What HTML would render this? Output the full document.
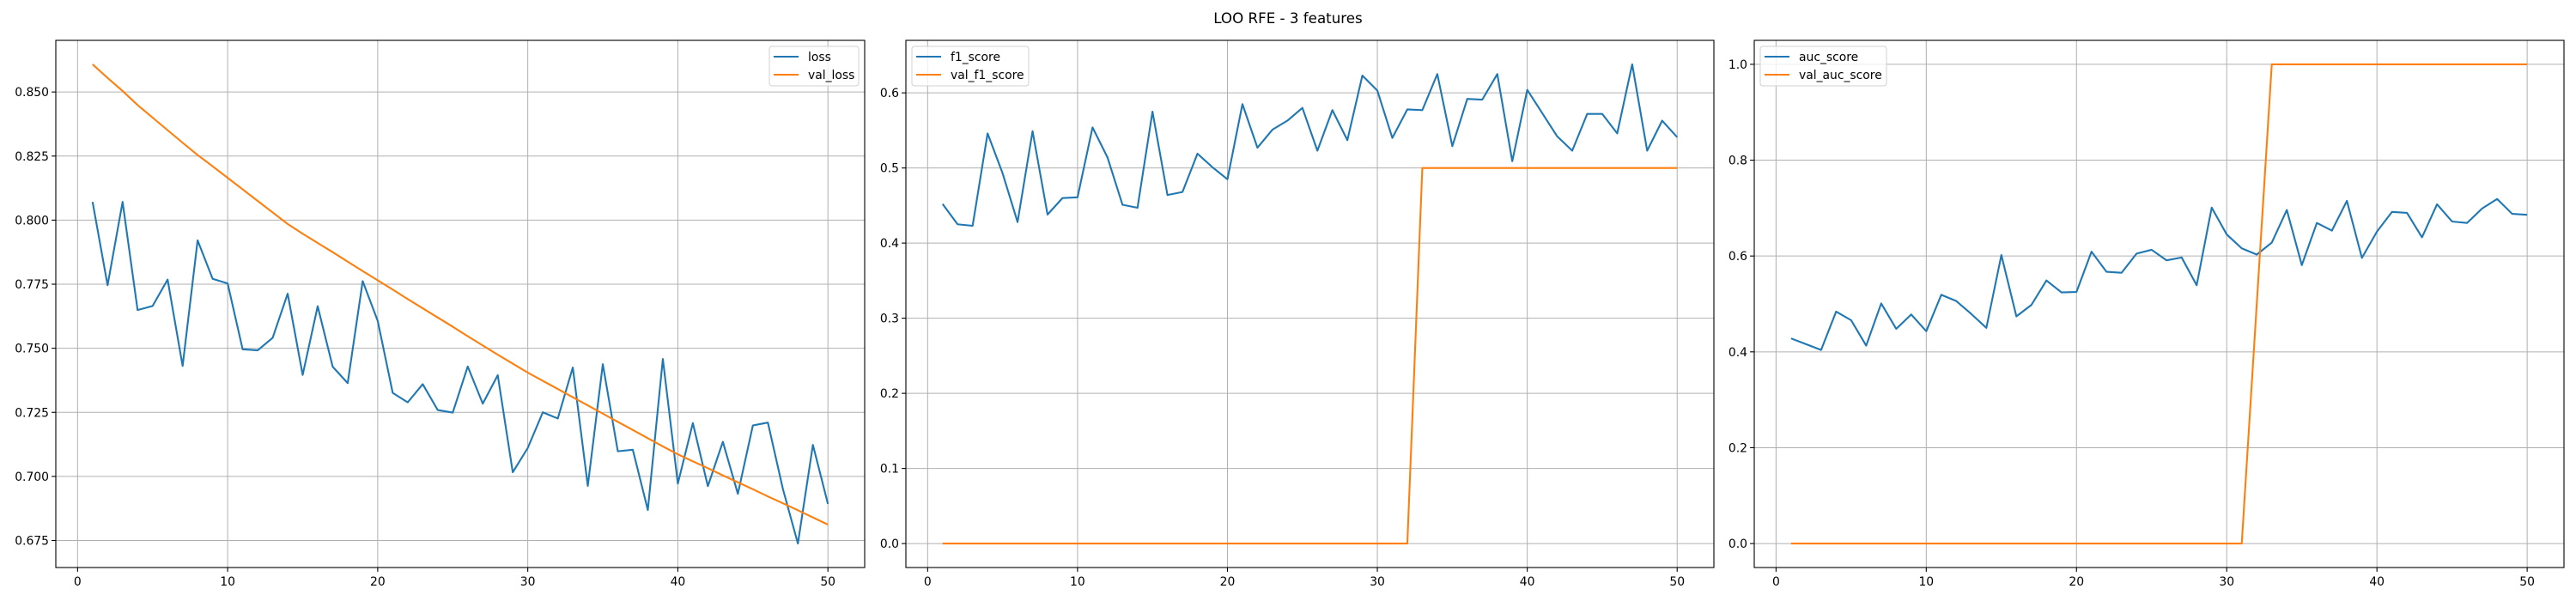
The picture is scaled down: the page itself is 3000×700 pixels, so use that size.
<!DOCTYPE html>
<html><head><meta charset="utf-8">
<style>
html,body{margin:0;padding:0;background:#fff;}
svg{display:block;font-family:"DejaVu Sans","Liberation Sans",sans-serif;}
</style></head>
<body>
<svg id="fig" width="3000" height="700" viewBox="0 0 3000 700" xmlns="http://www.w3.org/2000/svg">
<rect width="3000" height="700" fill="#fff"/>
<text x="1500" y="27" text-anchor="middle" font-size="16.7" fill="#000">LOO RFE - 3 features</text>
</svg>
<script>
const epochs = Array.from({length:50},(_, i)=>i+1);
const loss = [0.8071,0.7746,0.8071,0.7649,0.7665,0.7768,0.7431,0.7921,0.7771,0.7753,0.7496,0.7492,0.7541,0.7713,0.7396,0.7664,0.7428,0.7364,0.7762,0.7607,0.7326,0.7289,0.7360,0.7259,0.7249,0.7429,0.7284,0.7395,0.7016,0.7111,0.7250,0.7226,0.7425,0.6963,0.7438,0.7098,0.7104,0.6869,0.7458,0.6972,0.7208,0.6962,0.7135,0.6932,0.7199,0.7210,0.6951,0.6738,0.7123,0.6893];
const valLoss = [0.8608,0.8555,0.8504,0.8449,0.8400,0.8351,0.8302,0.8254,0.8210,0.8165,0.8120,0.8075,0.8030,0.7985,0.7947,0.7911,0.7875,0.7838,0.7801,0.7765,0.7729,0.7692,0.7656,0.7620,0.7584,0.7547,0.7511,0.7475,0.7440,0.7405,0.7373,0.7341,0.7309,0.7277,0.7245,0.7213,0.7181,0.7149,0.7117,0.7086,0.7059,0.7032,0.7004,0.6977,0.6950,0.6922,0.6895,0.6868,0.6840,0.6812];
const f1 = [0.452,0.425,0.423,0.546,0.493,0.428,0.549,0.438,0.460,0.461,0.554,0.514,0.451,0.447,0.575,0.464,0.468,0.519,0.501,0.485,0.585,0.527,0.551,0.563,0.580,0.523,0.577,0.537,0.623,0.603,0.540,0.578,0.577,0.625,0.529,0.592,0.591,0.625,0.509,0.604,0.573,0.542,0.523,0.572,0.572,0.546,0.638,0.523,0.563,0.541];
const valF1 = [0,0,0,0,0,0,0,0,0,0,0,0,0,0,0,0,0,0,0,0,0,0,0,0,0,0,0,0,0,0,0,0,0.5,0.5,0.5,0.5,0.5,0.5,0.5,0.5,0.5,0.5,0.5,0.5,0.5,0.5,0.5,0.5,0.5,0.5];
const auc = [0.428,0.416,0.404,0.484,0.466,0.413,0.501,0.448,0.478,0.443,0.519,0.506,0.479,0.450,0.602,0.474,0.498,0.549,0.524,0.525,0.609,0.567,0.565,0.605,0.613,0.591,0.597,0.539,0.701,0.645,0.616,0.603,0.628,0.696,0.581,0.669,0.653,0.715,0.596,0.651,0.692,0.690,0.639,0.708,0.672,0.669,0.699,0.719,0.688,0.686];
const valAuc = [0,0,0,0,0,0,0,0,0,0,0,0,0,0,0,0,0,0,0,0,0,0,0,0,0,0,0,0,0,0,0,0.5,1,1,1,1,1,1,1,1,1,1,1,1,1,1,1,1,1,1];
const xTicks = [0,10,20,30,40,50];
const yTicks1 = [0.675,0.700,0.725,0.750,0.775,0.800,0.825,0.850];
const yTicks2 = [0.0,0.1,0.2,0.3,0.4,0.5,0.6];
const yTicks3 = [0.0,0.2,0.4,0.6,0.8,1.0];
const yLabels1 = ["0.675","0.700","0.725","0.750","0.775","0.800","0.825","0.850"];
const yLabels2 = ["0.0","0.1","0.2","0.3","0.4","0.5","0.6"];
const yLabels3 = ["0.0","0.2","0.4","0.6","0.8","1.0"];

const NS="http://www.w3.org/2000/svg";
const svg=document.getElementById('fig');
function mk(tag,attrs,parent){const e=document.createElementNS(NS,tag);for(const k in attrs)e.setAttribute(k,attrs[k]);(parent||svg).appendChild(e);return e;}

function panel(L,R,T,B,s1,s2,n1,n2,yt,yl,legendPos,key){
  const g=mk('g',{});
  
  
  const all=s1.concat(s2);
  const mn=Math.min(...all),mx=Math.max(...all),pad=(mx-mn)*0.05;
  const y0=mn-pad,y1=mx+pad;
  const xmn=1-0.05*49,xmx=50+0.05*49;
  const X=v=>L+(v-xmn)/(xmx-xmn)*(R-L);
  const Y=v=>B-(v-y0)/(y1-y0)*(B-T);
  // grid
  xTicks.forEach(t=>{
    const ln=mk('line',{x1:X(t),x2:X(t),y1:T,y2:B,stroke:'#b0b0b0','stroke-width':1},g);
    
    
    mk('line',{x1:X(t),x2:X(t),y1:B,y2:B+4.9,stroke:'#000','stroke-width':1.1},g);
    const tx=mk('text',{x:X(t),y:B+21,'text-anchor':'middle','font-size':13.9,fill:'#000'},g);
    tx.textContent=t;
    
    
  });
  yt.forEach((t,i)=>{
    const ln=mk('line',{x1:L,x2:R,y1:Y(t),y2:Y(t),stroke:'#b0b0b0','stroke-width':1},g);
    
    
    mk('line',{x1:L-4.9,x2:L,y1:Y(t),y2:Y(t),stroke:'#000','stroke-width':1.1},g);
    const tx=mk('text',{x:L-8,y:Y(t)+5,'text-anchor':'end','font-size':13.9,fill:'#000'},g);
    tx.textContent=yl[i];
    
    
  });
  const p1=mk('polyline',{points:epochs.map((e,i)=>X(e)+','+Y(s1[i])).join(' '),fill:'none',stroke:'#1f77b4','stroke-width':2.1,'stroke-linejoin':'round'},g);
  
  
  const p2=mk('polyline',{points:epochs.map((e,i)=>X(e)+','+Y(s2[i])).join(' '),fill:'none',stroke:'#ff7f0e','stroke-width':2.1,'stroke-linejoin':'round'},g);
  
  
  const fr=mk('rect',{x:L,y:T,width:R-L,height:B-T,fill:'none',stroke:'#000','stroke-width':1.1},g);
  
  
  // legend
  const lw=legendPos.w,lx=legendPos.right?R-7-lw:L+7,ly=T+7;
  const lg=mk('g',{},g);
  
  
  mk('rect',{x:lx,y:ly,width:lw,height:46,rx:3,fill:'#fff','fill-opacity':0.8,stroke:'#d0d0d0','stroke-width':1},lg);
  [[n1,'#1f77b4'],[n2,'#ff7f0e']].forEach((d,i)=>{
    const yy=ly+12+i*21;
    mk('line',{x1:lx+5,x2:lx+34,y1:yy,y2:yy,stroke:d[1],'stroke-width':2.1},lg);
    const tx=mk('text',{x:lx+45,y:yy+5,'font-size':13.9,fill:'#000'},lg);
    tx.textContent=d[0];
    
    
  });
}
panel(65,1007,47,661,loss,valLoss,'loss','val_loss',yTicks1,yLabels1,{right:true,w:104},'loss');
panel(1055,1996,47,661,f1,valF1,'f1_score','val_f1_score',yTicks2,yLabels2,{right:false,w:136},'f1');
panel(2043,2986,47,661,auc,valAuc,'auc_score','val_auc_score',yTicks3,yLabels3,{right:false,w:147},'auc');
</script>
</body></html>
